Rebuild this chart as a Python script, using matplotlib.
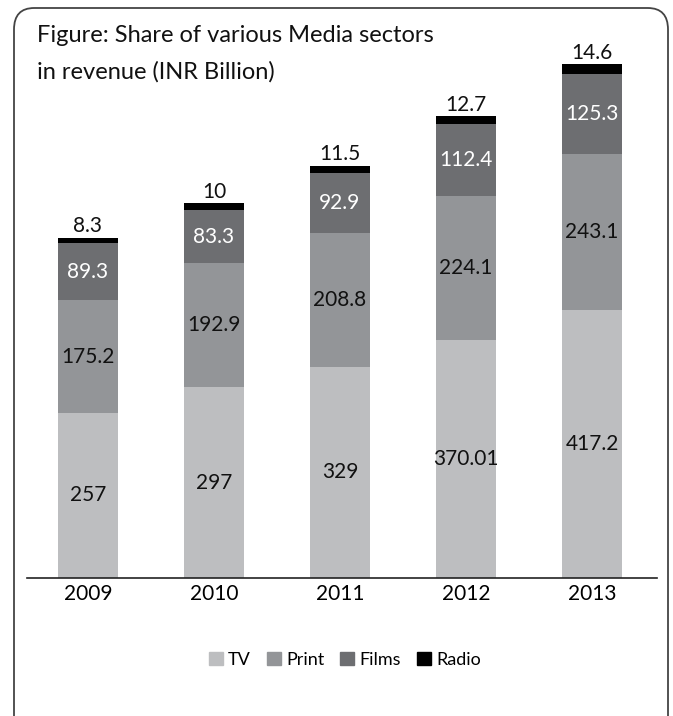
import numpy as np
import matplotlib
matplotlib.use("Agg")
import matplotlib.pyplot as plt
from matplotlib.patches import FancyBboxPatch, Patch

plt.rcParams['font.family'] = ['Lato', 'DejaVu Sans']

years = ['2009', '2010', '2011', '2012', '2013']
tv = [257, 297, 329, 370.01, 417.2]
prnt = [175.2, 192.9, 208.8, 224.1, 243.1]
films = [89.3, 83.3, 92.9, 112.4, 125.3]
radio = [8.3, 10, 11.5, 12.7, 14.6]

tv_lbl = ['257', '297', '329', '370.01', '417.2']
print_lbl = ['175.2', '192.9', '208.8', '224.1', '243.1']
films_lbl = ['89.3', '83.3', '92.9', '112.4', '125.3']
radio_lbl = ['8.3', '10', '11.5', '12.7', '14.6']

c_tv, c_print, c_films, c_radio = '#bdbec0', '#939598', '#6d6e71', '#000000'

fig = plt.figure(figsize=(6.73, 7.16), dpi=100)

# rounded frame round the whole chart
frame = FancyBboxPatch((14 / 673, -0.05), 654 / 673, (708 / 716) + 0.05,
                       boxstyle='round,pad=0,rounding_size=0.03',
                       transform=fig.transFigure, fill=False,
                       edgecolor='#444444', linewidth=1.3)
fig.patches.append(frame)

ax = fig.add_axes([27 / 673, 138 / 716, 630 / 673, 533 / 716])
x = np.arange(len(years))
w = 0.476

b0 = np.zeros(len(years))
b1 = b0 + np.array(tv)
b2 = b1 + np.array(prnt)
b3 = b2 + np.array(films)

ax.bar(x, tv, w, bottom=b0, color=c_tv, label='TV')
ax.bar(x, prnt, w, bottom=b1, color=c_print, label='Print')
ax.bar(x, films, w, bottom=b2, color=c_films, label='Films')
ax.bar(x, radio, w, bottom=b3, color=c_radio, label='Radio')

fs = 15
for i in range(len(years)):
    ax.text(x[i], b0[i] + tv[i] / 2, tv_lbl[i], ha='center', va='center', fontsize=fs, color='#111111')
    ax.text(x[i], b1[i] + prnt[i] / 2, print_lbl[i], ha='center', va='center', fontsize=fs, color='#111111')
    ax.text(x[i], b2[i] + films[i] / 2, films_lbl[i], ha='center', va='center', fontsize=fs, color='white')
    ax.text(x[i], b3[i] + radio[i] + 2, radio_lbl[i], ha='center', va='bottom', fontsize=fs, color='#111111')

ax.set_xlim(-0.484, 4.516)
ax.set_ylim(0, 830)
ax.set_xticks(x)
ax.set_xticklabels(years, fontsize=fs)
ax.tick_params(axis='x', length=0, pad=4)
ax.set_yticks([])
for s in ['top', 'right', 'left']:
    ax.spines[s].set_visible(False)
ax.spines['bottom'].set_color('#222222')
ax.spines['bottom'].set_linewidth(1.2)

fig.text(37 / 673, 1 - 36 / 716, 'Figure: Share of various Media sectors',
         ha='left', va='center', fontsize=17, color='#111111')
fig.text(37 / 673, 1 - 72 / 716, 'in revenue (INR Billion)',
         ha='left', va='center', fontsize=17, color='#111111')

handles = [Patch(color=c_tv, label='TV'), Patch(color=c_print, label='Print'),
           Patch(color=c_films, label='Films'), Patch(color=c_radio, label='Radio')]
fig.legend(handles=handles, loc='center', bbox_to_anchor=(345 / 673, 1 - 660 / 716),
           ncol=4, frameon=False, fontsize=13, handlelength=0.75, handleheight=0.75,
           handletextpad=0.3, columnspacing=0.9)

fig.savefig('out.png', dpi=100)
